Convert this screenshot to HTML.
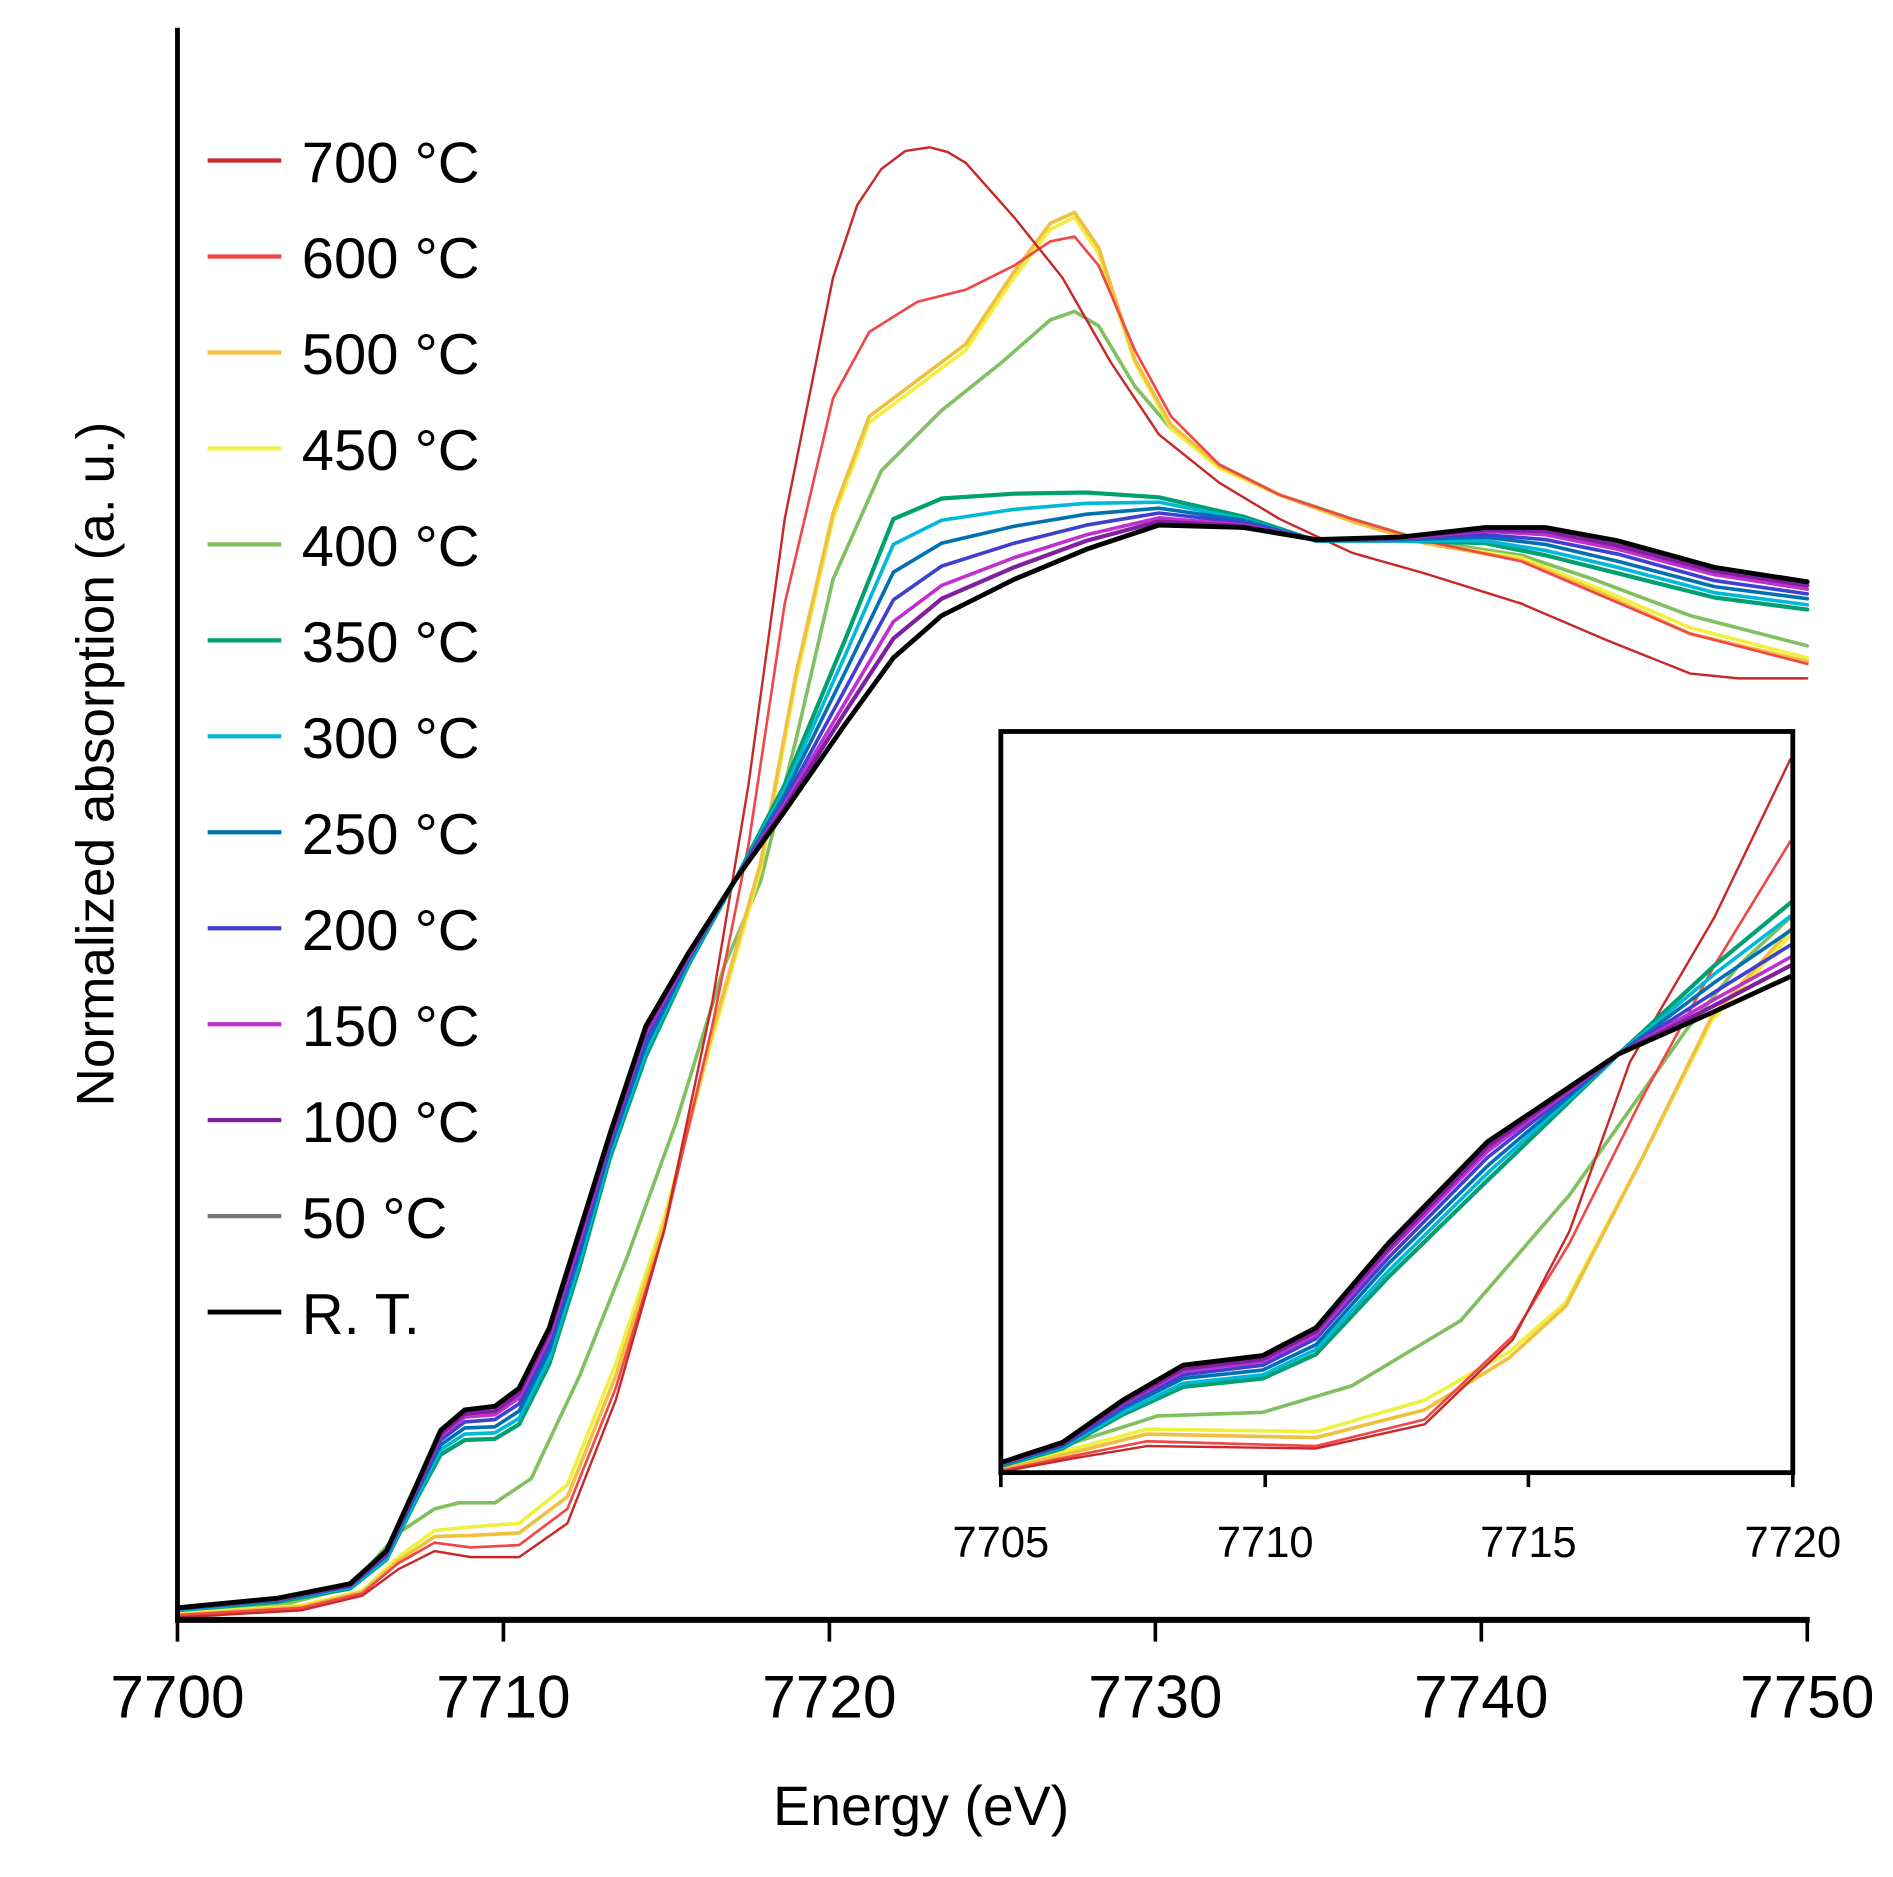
<!DOCTYPE html>
<html><head><meta charset="utf-8"><style>
html,body{margin:0;padding:0;background:#fff;}
svg{display:block;}
text{font-family:"Liberation Sans",sans-serif;fill:#000;}
polyline{fill:none;stroke-linejoin:round;stroke-linecap:round;}
</style></head><body>
<svg width="1893" height="1877" viewBox="0 0 1568 1555" preserveAspectRatio="none" xmlns="http://www.w3.org/2000/svg">
<rect width="1568" height="1555" fill="#fff"/>
<!-- main curves -->
<polyline stroke="#80c060" stroke-width="3" points="147,1335 240,1328 290,1315 330,1270 360,1250 380,1245 410,1245 440,1225 480,1140 520,1040 560,930 600,800 630,730 660,610 690,480 730,390 780,340 830,300 870,265 890,258 910,270 940,320 970,355 1010,385 1060,410 1120,430 1180,448 1260,460 1320,480 1400,510 1497,535"/>
<polyline stroke="#f0f040" stroke-width="3" points="147,1337 250,1330 300,1318 330,1290 360,1268 390,1265 430,1262 470,1230 510,1130 550,1010 590,860 630,720 660,560 690,430 720,350 760,320 800,290 840,230 870,190 890,180 910,210 940,300 970,355 1010,388 1060,410 1120,432 1180,450 1260,462 1330,490 1400,520 1497,545"/>
<polyline stroke="#f0c040" stroke-width="3" points="147,1338 250,1331 300,1319 330,1293 360,1273 390,1272 430,1270 470,1240 510,1140 550,1015 590,855 630,715 660,555 690,425 720,345 760,315 800,285 840,225 870,185 890,176 910,205 940,298 970,352 1010,386 1060,410 1120,432 1180,450 1260,464 1330,493 1400,525 1497,548"/>
<polyline stroke="#f04848" stroke-width="2.2" points="147,1338 250,1332 300,1320 330,1295 360,1278 390,1282 430,1280 470,1250 510,1150 550,1020 590,850 620,700 650,500 690,330 720,275 760,250 800,240 840,220 870,200 890,196 910,220 940,290 970,345 1010,385 1060,410 1120,430 1180,448 1260,465 1330,495 1400,525 1497,550"/>
<polyline stroke="#c82828" stroke-width="2" points="147,1340 250,1334 300,1322 330,1300 360,1285 390,1290 430,1290 470,1262 510,1160 550,1020 590,830 620,650 650,430 690,230 710,170 730,140 750,125 770,122 785,126 800,135 840,180 880,230 920,300 960,360 1010,400 1060,430 1120,458 1180,475 1260,500 1330,530 1400,558 1440,562 1497,562"/>
<polyline stroke="#00a070" stroke-width="3.5" points="147,1334 230,1327 290,1316 320,1292 345,1242 365,1205 385,1193 410,1192 430,1180 455,1130 480,1050 505,960 535,875 570,800 609,729 650,650 700,530 740,430 780,413 840,409 900,408 960,412 1030,428 1090,448 1160,448 1230,450 1280,460 1340,475 1420,495 1497,505"/>
<polyline stroke="#00b8d8" stroke-width="3" points="147,1334 230,1326 290,1315 320,1291 345,1240 365,1201 385,1188 410,1187 430,1175 455,1125 480,1045 505,956 535,871 570,798 609,729 650,654 700,543 740,451 780,431 840,422 900,417 960,416 1030,430 1090,448 1160,448 1230,448 1280,456 1340,470 1420,491 1497,501"/>
<polyline stroke="#0070b0" stroke-width="3" points="147,1333 230,1326 290,1314 320,1289 345,1237 365,1197 385,1183 410,1182 430,1169 455,1119 480,1039 505,952 535,866 570,796 609,729 650,658 700,557 740,474 780,450 840,436 900,426 960,421 1030,431 1090,448 1160,447 1230,445 1280,451 1340,465 1420,486 1497,496"/>
<polyline stroke="#4040d0" stroke-width="3" points="147,1333 230,1325 290,1314 320,1288 345,1235 365,1193 385,1178 410,1176 430,1163 455,1113 480,1033 505,948 535,860 570,794 609,729 650,663 700,571 740,497 780,469 840,450 900,435 960,425 1030,433 1090,447 1160,446 1230,443 1280,447 1340,459 1420,481 1497,492"/>
<polyline stroke="#c030d0" stroke-width="3" points="147,1332 230,1325 290,1313 320,1287 345,1233 365,1190 385,1174 410,1172 430,1158 455,1108 480,1028 505,945 535,856 570,793 609,729 650,666 700,582 740,515 780,485 840,462 900,443 960,429 1030,435 1090,447 1160,446 1230,440 1280,443 1340,455 1420,476 1497,488"/>
<polyline stroke="#8020a0" stroke-width="3.5" points="147,1332 230,1324 290,1313 320,1286 345,1232 365,1188 385,1171 410,1169 430,1154 455,1104 480,1024 505,943 535,853 570,791 609,729 650,669 700,590 740,529 780,496 840,470 900,448 960,432 1030,436 1090,447 1160,445 1230,439 1280,440 1340,452 1420,473 1497,485"/>
<polyline stroke="#000" stroke-width="4" points="147,1332 230,1324 290,1312 320,1285 345,1230 365,1185 385,1168 410,1165 430,1150 455,1100 480,1020 505,940 535,850 570,790 609,729 650,672 700,600 740,545 780,510 840,480 900,455 960,435 1030,437 1090,447 1160,445 1230,437 1280,437 1340,448 1420,470 1497,482"/>
<!-- main axes -->
<line x1="147" y1="23" x2="147" y2="1344" stroke="#000" stroke-width="4"/>
<line x1="145" y1="1342" x2="1499" y2="1342" stroke="#000" stroke-width="5"/>
<g stroke="#000" stroke-width="3">
<line x1="147" y1="1342" x2="147" y2="1360"/><line x1="417" y1="1342" x2="417" y2="1360"/>
<line x1="687" y1="1342" x2="687" y2="1360"/><line x1="957" y1="1342" x2="957" y2="1360"/>
<line x1="1227" y1="1342" x2="1227" y2="1360"/><line x1="1497" y1="1342" x2="1497" y2="1360"/>
</g>
<g font-size="50" text-anchor="middle">
<text x="147" y="1423">7700</text><text x="417" y="1423">7710</text><text x="687" y="1423">7720</text>
<text x="957" y="1423">7730</text><text x="1227" y="1423">7740</text><text x="1497" y="1423">7750</text>
</g>
<text x="763" y="1512" font-size="46" text-anchor="middle">Energy (eV)</text>
<text transform="translate(94,633) rotate(-90)" font-size="44" text-anchor="middle">Normalized absorption (a. u.)</text>
<!-- inset -->
<rect x="829" y="606" width="656" height="614" fill="#fff" stroke="none"/>
<polyline stroke="#80c060" stroke-width="3" points="831,1215 890,1195 959,1173 1046,1170 1120,1148 1210,1094 1300,990 1397,853 1440,800 1483,760"/>
<polyline stroke="#f0f040" stroke-width="3" points="831,1216 890,1200 950,1184 1090,1186 1180,1160 1250,1120 1297,1079 1360,960 1418,845 1483,775"/>
<polyline stroke="#f0c040" stroke-width="3" points="831,1217 890,1203 950,1188 1090,1191 1180,1168 1250,1125 1297,1082 1360,960 1418,842 1483,770"/>
<polyline stroke="#f04848" stroke-width="2.2" points="831,1218 890,1206 950,1194 1090,1198 1180,1176 1253,1107 1300,1030 1360,910 1420,800 1483,697"/>
<polyline stroke="#c82828" stroke-width="2" points="831,1219 890,1208 950,1198 1090,1200 1180,1180 1253,1110 1300,1020 1350,880 1420,760 1483,629"/>
<polyline stroke="#00a070" stroke-width="3.5" points="831,1214 880,1200 930,1172 980,1149 1046,1142 1090,1122 1150,1058 1232,978 1341,873 1420,800 1483,748"/>
<polyline stroke="#00b8d8" stroke-width="3" points="831,1213 880,1199 930,1170 980,1146 1046,1139 1090,1118 1150,1053 1232,972 1341,873 1420,807 1483,759"/>
<polyline stroke="#0070b0" stroke-width="3" points="831,1213 880,1198 930,1167 980,1142 1046,1135 1090,1114 1150,1047 1232,966 1341,873 1420,814 1483,771"/>
<polyline stroke="#4040d0" stroke-width="3" points="831,1212 880,1197 930,1165 980,1139 1046,1131 1090,1109 1150,1042 1232,959 1341,873 1420,822 1483,783"/>
<polyline stroke="#c030d0" stroke-width="3" points="831,1212 880,1196 930,1163 980,1136 1046,1128 1090,1106 1150,1037 1232,954 1341,873 1420,828 1483,793"/>
<polyline stroke="#8020a0" stroke-width="3.5" points="831,1211 880,1196 930,1162 980,1134 1046,1126 1090,1103 1150,1034 1232,950 1341,873 1420,833 1483,800"/>
<polyline stroke="#000" stroke-width="4" points="831,1211 880,1195 930,1160 980,1131 1046,1123 1090,1100 1150,1030 1232,946 1341,873 1420,838 1483,809"/>
<rect x="829" y="606" width="656" height="614" fill="none" stroke="#000" stroke-width="4"/>
<g stroke="#000" stroke-width="3">
<line x1="829" y1="1220" x2="829" y2="1232"/><line x1="1048" y1="1220" x2="1048" y2="1232"/>
<line x1="1266" y1="1220" x2="1266" y2="1232"/><line x1="1485" y1="1220" x2="1485" y2="1232"/>
</g>
<g font-size="36" text-anchor="middle">
<text x="829" y="1290">7705</text><text x="1048" y="1290">7710</text><text x="1266" y="1290">7715</text><text x="1485" y="1290">7720</text>
</g>
<!-- legend -->
<g stroke-width="3.5">
<line x1="172" x2="233" y1="133" y2="133" stroke="#c82828"/>
<line x1="172" x2="233" y1="212.5" y2="212.5" stroke="#f04848"/>
<line x1="172" x2="233" y1="292" y2="292" stroke="#f0c040"/>
<line x1="172" x2="233" y1="371.5" y2="371.5" stroke="#f0f040"/>
<line x1="172" x2="233" y1="451" y2="451" stroke="#80c060"/>
<line x1="172" x2="233" y1="530.5" y2="530.5" stroke="#00a070"/>
<line x1="172" x2="233" y1="610" y2="610" stroke="#00b8d8"/>
<line x1="172" x2="233" y1="689.5" y2="689.5" stroke="#0070b0"/>
<line x1="172" x2="233" y1="769" y2="769" stroke="#4040d0"/>
<line x1="172" x2="233" y1="848.5" y2="848.5" stroke="#c030d0"/>
<line x1="172" x2="233" y1="928" y2="928" stroke="#8020a0"/>
<line x1="172" x2="233" y1="1007.5" y2="1007.5" stroke="#777"/>
<line x1="172" x2="233" y1="1087" y2="1087" stroke="#000" stroke-width="4"/>
</g>
<g font-size="48">
<text x="250" y="151">700 °C</text>
<text x="250" y="230.5">600 °C</text>
<text x="250" y="310">500 °C</text>
<text x="250" y="389.5">450 °C</text>
<text x="250" y="469">400 °C</text>
<text x="250" y="548.5">350 °C</text>
<text x="250" y="628">300 °C</text>
<text x="250" y="707.5">250 °C</text>
<text x="250" y="787">200 °C</text>
<text x="250" y="866.5">150 °C</text>
<text x="250" y="946">100 °C</text>
<text x="250" y="1025.5">50 °C</text>
<text x="250" y="1105">R. T.</text>
</g>
</svg>
</body></html>
